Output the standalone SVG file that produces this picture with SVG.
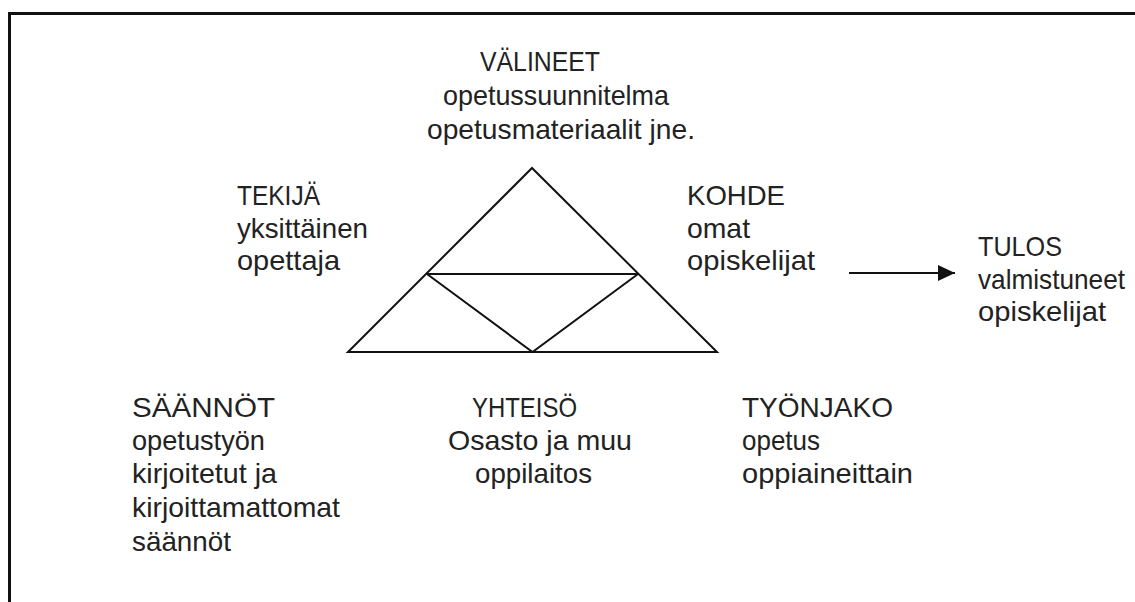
<svg xmlns="http://www.w3.org/2000/svg" width="1135" height="602" viewBox="0 0 1135 602">
  <style>
    .t { font-family: "Liberation Sans", Arial, sans-serif; font-size: 28px; fill: #222; }
    .ln { fill: none; stroke: #111; stroke-width: 2; stroke-linejoin: miter; }
  </style>
  <defs>
    <marker id="arrow" markerWidth="18" markerHeight="16" refX="17" refY="8" orient="auto" markerUnits="userSpaceOnUse">
      <path d="M0,0 L17,8 L0,16 Z" fill="#111"/>
    </marker>
  </defs>
  <rect width="1135" height="602" fill="#fff"/>
  <path d="M9.5,602 V13.5 H1135" fill="none" stroke="#111" stroke-width="3"/>

  <g id="triangle">
    <path class="ln" d="M532,168 L717,352 L348,352 Z"/>
    <path class="ln" d="M427,274 L638,274 M427,274 L532.5,352 L638,274"/>
  </g>

  <g id="valineet">
    <text class="t" x="480" y="71" textLength="120" lengthAdjust="spacingAndGlyphs">VÄLINEET</text>
    <text class="t" x="443" y="105" textLength="226" lengthAdjust="spacingAndGlyphs">opetussuunnitelma</text>
    <text class="t" x="427" y="139" textLength="268" lengthAdjust="spacingAndGlyphs">opetusmateriaalit jne.</text>
  </g>

  <g id="tekija">
    <text class="t" x="237" y="205" textLength="83" lengthAdjust="spacingAndGlyphs">TEKIJÄ</text>
    <text class="t" x="237" y="238" textLength="131" lengthAdjust="spacingAndGlyphs">yksittäinen</text>
    <text class="t" x="237" y="270" textLength="103" lengthAdjust="spacingAndGlyphs">opettaja</text>
  </g>

  <g id="kohde">
    <text class="t" x="687" y="205" textLength="98" lengthAdjust="spacingAndGlyphs">KOHDE</text>
    <text class="t" x="687" y="238" textLength="63" lengthAdjust="spacingAndGlyphs">omat</text>
    <text class="t" x="687" y="270" textLength="128" lengthAdjust="spacingAndGlyphs">opiskelijat</text>
  </g>

  <g id="tulos">
    <text class="t" x="978" y="256" textLength="84" lengthAdjust="spacingAndGlyphs">TULOS</text>
    <text class="t" x="978" y="289" textLength="147" lengthAdjust="spacingAndGlyphs">valmistuneet</text>
    <text class="t" x="978" y="321" textLength="128" lengthAdjust="spacingAndGlyphs">opiskelijat</text>
  </g>

  <g id="saannot">
    <text class="t" x="132" y="417" textLength="143" lengthAdjust="spacingAndGlyphs">SÄÄNNÖT</text>
    <text class="t" x="132" y="450" textLength="133" lengthAdjust="spacingAndGlyphs">opetustyön</text>
    <text class="t" x="132" y="483" textLength="145" lengthAdjust="spacingAndGlyphs">kirjoitetut ja</text>
    <text class="t" x="132" y="517" textLength="208" lengthAdjust="spacingAndGlyphs">kirjoittamattomat</text>
    <text class="t" x="132" y="551" textLength="99" lengthAdjust="spacingAndGlyphs">säännöt</text>
  </g>

  <g id="yhteiso">
    <text class="t" x="472" y="417" textLength="105" lengthAdjust="spacingAndGlyphs">YHTEISÖ</text>
    <text class="t" x="448" y="450" textLength="184" lengthAdjust="spacingAndGlyphs">Osasto ja muu</text>
    <text class="t" x="475" y="483" textLength="117" lengthAdjust="spacingAndGlyphs">oppilaitos</text>
  </g>

  <g id="tyonjako">
    <text class="t" x="742" y="417" textLength="151" lengthAdjust="spacingAndGlyphs">TYÖNJAKO</text>
    <text class="t" x="742" y="450" textLength="78" lengthAdjust="spacingAndGlyphs">opetus</text>
    <text class="t" x="742" y="483" textLength="171" lengthAdjust="spacingAndGlyphs">oppiaineittain</text>
  </g>

  <g id="connectors">
    <line x1="849" y1="273" x2="955" y2="273" stroke="#111" stroke-width="2" marker-end="url(#arrow)"/>
  </g>
</svg>
